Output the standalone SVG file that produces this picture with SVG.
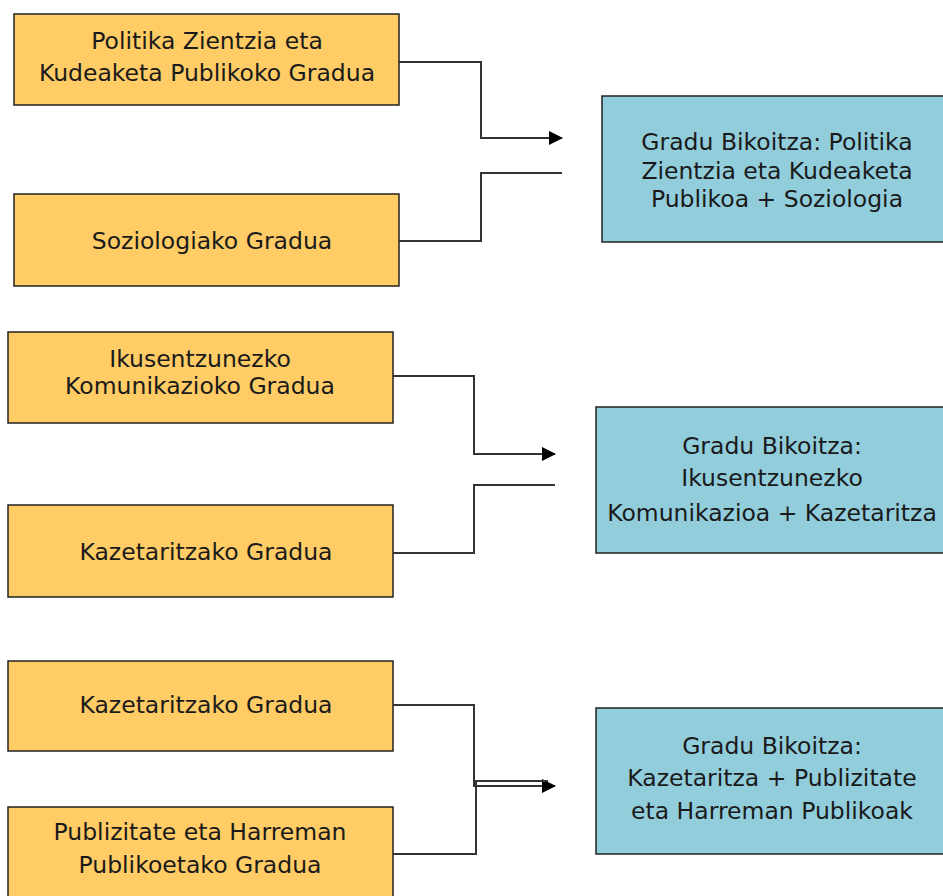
<svg xmlns="http://www.w3.org/2000/svg" width="943" height="896" viewBox="0 0 943 896">
<style>
.src{fill:#FFCC66;stroke:#222;stroke-width:1.5}
.dst{fill:#92CDDC;stroke:#222;stroke-width:1.5}
text{font-family:"DejaVu Sans",Verdana,sans-serif;font-size:23.5px;fill:#1a1a1a;text-anchor:middle}
.ln{fill:none;stroke:#333;stroke-width:2}
</style>
<defs>
<marker id="ah" markerWidth="14" markerHeight="14" refX="13" refY="7" orient="auto" markerUnits="userSpaceOnUse">
<path d="M0,0 L14,7 L0,14 Z" fill="#000"/>
</marker>
</defs>
<rect width="943" height="896" fill="#fff"/>
<g id="n1"><rect class="src" x="14" y="14" width="385" height="91"/><text x="207" y="49">Politika Zientzia eta</text><text x="207" y="81">Kudeaketa Publikoko Gradua</text></g>
<g id="n2"><rect class="src" x="14" y="194" width="385" height="92"/><text x="212" y="249">Soziologiako Gradua</text></g>
<g id="n3"><rect class="dst" x="602" y="96" width="345" height="146"/><text x="777" y="150">Gradu Bikoitza: Politika</text><text x="777" y="179">Zientzia eta Kudeaketa</text><text x="777" y="207">Publikoa + Soziologia</text></g>
<g id="n4"><rect class="src" x="8" y="332" width="385" height="91"/><text x="200" y="367">Ikusentzunezko</text><text x="200" y="394">Komunikazioko Gradua</text></g>
<g id="n5"><rect class="src" x="8" y="505" width="385" height="92"/><text x="206" y="560">Kazetaritzako Gradua</text></g>
<g id="n6"><rect class="dst" x="596" y="407" width="351" height="146"/><text x="772" y="454">Gradu Bikoitza:</text><text x="772" y="486">Ikusentzunezko</text><text x="772" y="521">Komunikazioa + Kazetaritza</text></g>
<g id="n7"><rect class="src" x="8" y="661" width="385" height="90"/><text x="206" y="713">Kazetaritzako Gradua</text></g>
<g id="n8"><rect class="src" x="8" y="807" width="385" height="95"/><text x="200" y="840">Publizitate eta Harreman</text><text x="200" y="873">Publikoetako Gradua</text></g>
<g id="n9"><rect class="dst" x="596" y="708" width="351" height="146"/><text x="772" y="754">Gradu Bikoitza:</text><text x="772" y="786">Kazetaritza + Publizitate</text><text x="772" y="819">eta Harreman Publikoak</text></g>
<g id="connectors">
<path class="ln" d="M399,62 H481 V138 H562" marker-end="url(#ah)"/>
<path class="ln" d="M399,241 H481 V173 H562"/>
<path class="ln" d="M393,376 H474 V454 H555" marker-end="url(#ah)"/>
<path class="ln" d="M393,553 H474 V485 H555"/>
<path class="ln" d="M393,705 H474 V786 H555" marker-end="url(#ah)"/>
<path class="ln" d="M393,854 H476 V781 H548"/>
</g>
</svg>
